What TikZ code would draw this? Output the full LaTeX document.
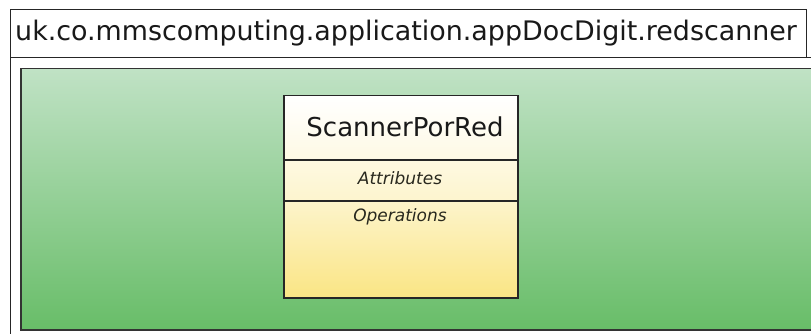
\documentclass[tikz,border=0pt]{standalone}
\usepackage{fontspec}
\setmainfont{DejaVu Sans}
\definecolor{greentop}{RGB}{192,226,197}
\definecolor{greenbot}{RGB}{104,189,104}
\definecolor{clsyellow}{RGB}{250,229,132}
\definecolor{inktext}{RGB}{40,40,30}
\tikzstyle{pkgtab}=[draw=black!85, line width=1.2pt, fill=white, inner sep=0pt, anchor=north west]
\tikzstyle{pkgframe}=[draw=black!85, line width=1.2pt, inner sep=0pt, anchor=north west]
\tikzstyle{pkgbody}=[draw=black!80, line width=1.5pt, top color=greentop, bottom color=greenbot, inner sep=0pt, anchor=north west]
\tikzstyle{compart}=[draw=black!85, line width=1.5pt, inner sep=0pt, anchor=north west, minimum width=234pt]
\tikzstyle{bigtext}=[inner sep=0pt, text=black!90]
\tikzstyle{smalltext}=[inner sep=0pt, text=inktext, font=\fontsize{17}{20}\selectfont\itshape]

\begin{document}
\begin{tikzpicture}[x=1pt, y=-1pt]
		   \useasboundingbox (0,0) rectangle (811,334);
		   \clip (0,0) rectangle (811,334);
		   \fill[white] (0,0) rectangle (811,334);
		   \begin{scope}
			   % package frame and its tab
			   \node (frame) at (9.5,57)[pkgframe, minimum width=830pt, minimum height=300pt] {};
			   \node (tab) at (9.5,9)[pkgtab, minimum width=796pt, minimum height=48pt] {};
			   \node (pkgname) at (15,33)[bigtext, anchor=west, font=\fontsize{26.9}{30}\selectfont] {uk.co.mmscomputing.application.appDocDigit.redscanner};
			   \node (body) at (20,68)[pkgbody, minimum width=830pt, minimum height=261pt] {};
		   \end{scope}
		   \begin{scope}
			   % class ScannerPorRed
			   \node (clsname) at (283,95)[compart, minimum height=64pt, top color=white, bottom color=clsyellow!22] {};
			   \node (attrs) at (283,159)[compart, minimum height=41pt, top color=clsyellow!24, bottom color=clsyellow!40] {};
			   \node (ops) at (283,200)[compart, minimum height=97pt, top color=clsyellow!42, bottom color=clsyellow] {};
			   \node (clstitle) at (405,127)[bigtext, font=\fontsize{26}{30}\selectfont] {ScannerPorRed};
			   \node (attrlbl) at (400,178)[smalltext] {Attributes};
			   \node (oplbl) at (400,217)[smalltext] {Operations};
		   \end{scope}
	   \end{tikzpicture}
\end{document}
